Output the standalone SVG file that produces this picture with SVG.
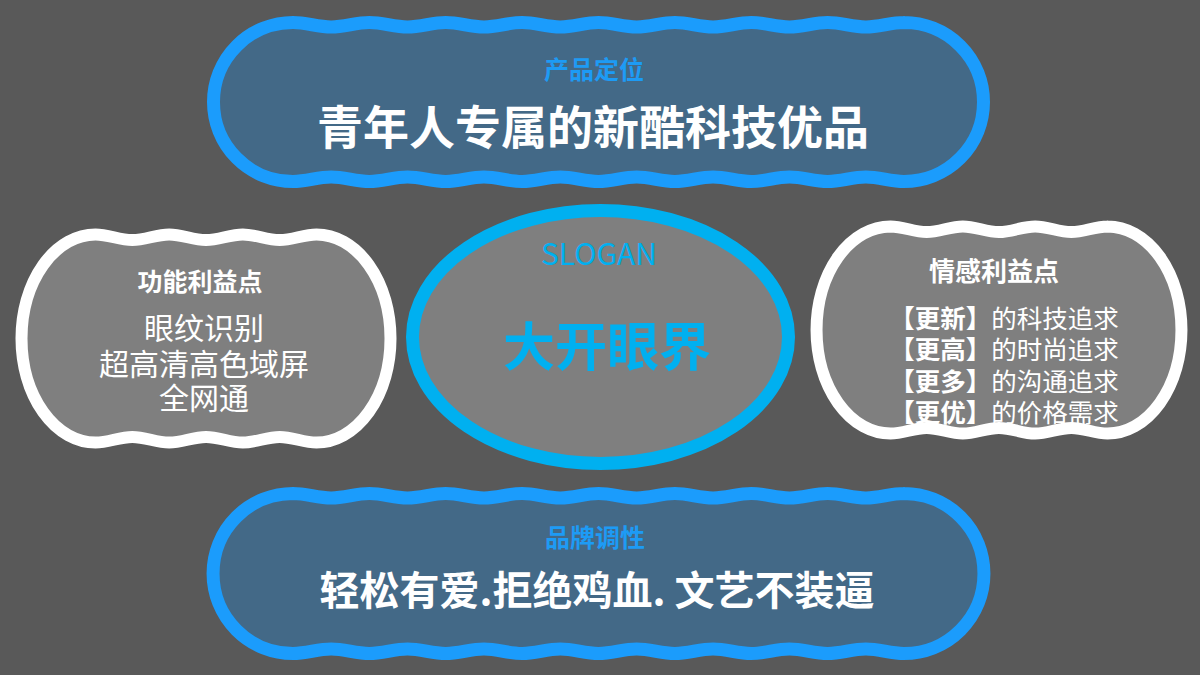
<svg xmlns="http://www.w3.org/2000/svg" width="1200" height="675" viewBox="0 0 1200 675">
<style>
.bg{fill:#595959}
.blueshape{fill:#436987;stroke:#1b9cfc;stroke-width:13;stroke-linejoin:round}
.greyfill{fill:#7f7f7f}
.whitestroke{fill:none;stroke:#ffffff;stroke-width:12;stroke-linejoin:round}
.oval{fill:#7f7f7f;stroke:#00b0f0;stroke-width:13}
text{font-family:"Noto Sans CJK SC","Noto Sans",sans-serif;text-anchor:middle}
.lbl{fill:#1d9bf5;font-weight:700;font-size:25px}
.big{fill:#ffffff;font-weight:700}
.wt{fill:#ffffff}
.cy{fill:#00b0f0}
</style>
<rect class="bg" x="0" y="0" width="1200" height="675"/>
<g id="connectors"></g>
<g id="node-product">
<path class="blueshape" d="M293,22.5 c13.75,0 24.44,4.5 38.19,4.5 s24.44,-4.5 38.19,-4.5 s24.44,4.5 38.19,4.5 s24.44,-4.5 38.19,-4.5 s24.44,4.5 38.19,4.5 s24.44,-4.5 38.19,-4.5 s24.44,4.5 38.19,4.5 s24.44,-4.5 38.19,-4.5 s24.44,4.5 38.19,4.5 s24.44,-4.5 38.19,-4.5 s24.44,4.5 38.19,4.5 s24.44,-4.5 38.19,-4.5 s24.44,4.5 38.19,4.5 s24.44,-4.5 38.19,-4.5 s24.44,4.5 38.19,4.5 s24.44,-4.5 38.19,-4.5 L904,22.5 A79.5,79.5 0 0 1 904,181.5 c-13.75,0 -24.44,-4.5 -38.19,-4.5 s-24.44,4.5 -38.19,4.5 s-24.44,-4.5 -38.19,-4.5 s-24.44,4.5 -38.19,4.5 s-24.44,-4.5 -38.19,-4.5 s-24.44,4.5 -38.19,4.5 s-24.44,-4.5 -38.19,-4.5 s-24.44,4.5 -38.19,4.5 s-24.44,-4.5 -38.19,-4.5 s-24.44,4.5 -38.19,4.5 s-24.44,-4.5 -38.19,-4.5 s-24.44,4.5 -38.19,4.5 s-24.44,-4.5 -38.19,-4.5 s-24.44,4.5 -38.19,4.5 s-24.44,-4.5 -38.19,-4.5 s-24.44,4.5 -38.19,4.5 L293,181.5 A79.5,79.5 0 0 1 293,22.5 Z"/>
<text class="lbl" x="594" y="79">产品定位</text>
<text class="big" x="593" y="143.5" font-size="46">青年人专属的新酷科技优品</text>
</g>
<g id="node-brand">
<path class="blueshape" d="M293,493.5 c13.75,0 24.44,4.5 38.19,4.5 s24.44,-4.5 38.19,-4.5 s24.44,4.5 38.19,4.5 s24.44,-4.5 38.19,-4.5 s24.44,4.5 38.19,4.5 s24.44,-4.5 38.19,-4.5 s24.44,4.5 38.19,4.5 s24.44,-4.5 38.19,-4.5 s24.44,4.5 38.19,4.5 s24.44,-4.5 38.19,-4.5 s24.44,4.5 38.19,4.5 s24.44,-4.5 38.19,-4.5 s24.44,4.5 38.19,4.5 s24.44,-4.5 38.19,-4.5 s24.44,4.5 38.19,4.5 s24.44,-4.5 38.19,-4.5 L904,493.5 A80,80 0 0 1 904,653.5 c-13.75,0 -24.44,-4.5 -38.19,-4.5 s-24.44,4.5 -38.19,4.5 s-24.44,-4.5 -38.19,-4.5 s-24.44,4.5 -38.19,4.5 s-24.44,-4.5 -38.19,-4.5 s-24.44,4.5 -38.19,4.5 s-24.44,-4.5 -38.19,-4.5 s-24.44,4.5 -38.19,4.5 s-24.44,-4.5 -38.19,-4.5 s-24.44,4.5 -38.19,4.5 s-24.44,-4.5 -38.19,-4.5 s-24.44,4.5 -38.19,4.5 s-24.44,-4.5 -38.19,-4.5 s-24.44,4.5 -38.19,4.5 s-24.44,-4.5 -38.19,-4.5 s-24.44,4.5 -38.19,4.5 L293,653.5 A80,80 0 0 1 293,493.5 Z"/>
<text class="lbl" x="595" y="547">品牌调性</text>
<text class="big" x="597" y="604.5" font-size="40">轻松有爱.拒绝鸡血. 文艺不装逼</text>
</g>
<g id="node-function">
<path class="greyfill" d="M95.5,234.5 c13.26,0 23.57,5.5 36.83,5.5 s23.57,-5.5 36.83,-5.5 s23.57,5.5 36.83,5.5 s23.57,-5.5 36.83,-5.5 s23.57,5.5 36.83,5.5 s23.57,-5.5 36.83,-5.5 L316.5,234.5 A74,104 0 0 1 316.5,442.5 c-13.26,0 -23.57,-5.5 -36.83,-5.5 s-23.57,5.5 -36.83,5.5 s-23.57,-5.5 -36.83,-5.5 s-23.57,5.5 -36.83,5.5 s-23.57,-5.5 -36.83,-5.5 s-23.57,5.5 -36.83,5.5 L95.5,442.5 A74,104 0 0 1 95.5,234.5 Z"/>
<text class="wt" x="200" y="291" font-size="25" font-weight="700">功能利益点</text>
<text class="wt" x="204" y="339" font-size="30">眼纹识别</text>
<text class="wt" x="204" y="375" font-size="30">超高清高色域屏</text>
<text class="wt" x="204" y="409" font-size="30">全网通</text>
<path class="whitestroke" d="M95.5,234.5 c13.26,0 23.57,5.5 36.83,5.5 s23.57,-5.5 36.83,-5.5 s23.57,5.5 36.83,5.5 s23.57,-5.5 36.83,-5.5 s23.57,5.5 36.83,5.5 s23.57,-5.5 36.83,-5.5 L316.5,234.5 A74,104 0 0 1 316.5,442.5 c-13.26,0 -23.57,-5.5 -36.83,-5.5 s-23.57,5.5 -36.83,5.5 s-23.57,-5.5 -36.83,-5.5 s-23.57,5.5 -36.83,5.5 s-23.57,-5.5 -36.83,-5.5 s-23.57,5.5 -36.83,5.5 L95.5,442.5 A74,104 0 0 1 95.5,234.5 Z"/>
</g>
<g id="node-emotion">
<path class="greyfill" d="M890.5,226.5 c13.02,0 23.15,5.5 36.17,5.5 s23.15,-5.5 36.17,-5.5 s23.15,5.5 36.17,5.5 s23.15,-5.5 36.17,-5.5 s23.15,5.5 36.17,5.5 s23.15,-5.5 36.17,-5.5 L1107.5,226.5 A74,103.5 0 0 1 1107.5,433.5 c-13.02,0 -23.15,-5.5 -36.17,-5.5 s-23.15,5.5 -36.17,5.5 s-23.15,-5.5 -36.17,-5.5 s-23.15,5.5 -36.17,5.5 s-23.15,-5.5 -36.17,-5.5 s-23.15,5.5 -36.17,5.5 L890.5,433.5 A74,103.5 0 0 1 890.5,226.5 Z"/>
<text class="wt" x="994" y="281" font-size="26" font-weight="700">情感利益点</text>
<text class="wt" x="1004" y="328" font-size="25.5"><tspan font-weight="700">【更新】</tspan>的科技追求</text>
<text class="wt" x="1004" y="359" font-size="25.5"><tspan font-weight="700">【更高】</tspan>的时尚追求</text>
<text class="wt" x="1004" y="391" font-size="25.5"><tspan font-weight="700">【更多】</tspan>的沟通追求</text>
<text class="wt" x="1004" y="422" font-size="25.5"><tspan font-weight="700">【更优】</tspan>的价格需求</text>
<path class="whitestroke" d="M890.5,226.5 c13.02,0 23.15,5.5 36.17,5.5 s23.15,-5.5 36.17,-5.5 s23.15,5.5 36.17,5.5 s23.15,-5.5 36.17,-5.5 s23.15,5.5 36.17,5.5 s23.15,-5.5 36.17,-5.5 L1107.5,226.5 A74,103.5 0 0 1 1107.5,433.5 c-13.02,0 -23.15,-5.5 -36.17,-5.5 s-23.15,5.5 -36.17,5.5 s-23.15,-5.5 -36.17,-5.5 s-23.15,5.5 -36.17,5.5 s-23.15,-5.5 -36.17,-5.5 s-23.15,5.5 -36.17,5.5 L890.5,433.5 A74,103.5 0 0 1 890.5,226.5 Z"/>
</g>
<g id="node-slogan">
<ellipse class="oval" cx="600.5" cy="337" rx="188" ry="126.5"/>
<text class="cy" x="599" y="265" font-size="30" font-family="'Noto Sans',sans-serif">SLOGAN</text>
<text class="cy" x="607" y="366" font-size="52" font-weight="700">大开眼界</text>
</g>
</svg>
